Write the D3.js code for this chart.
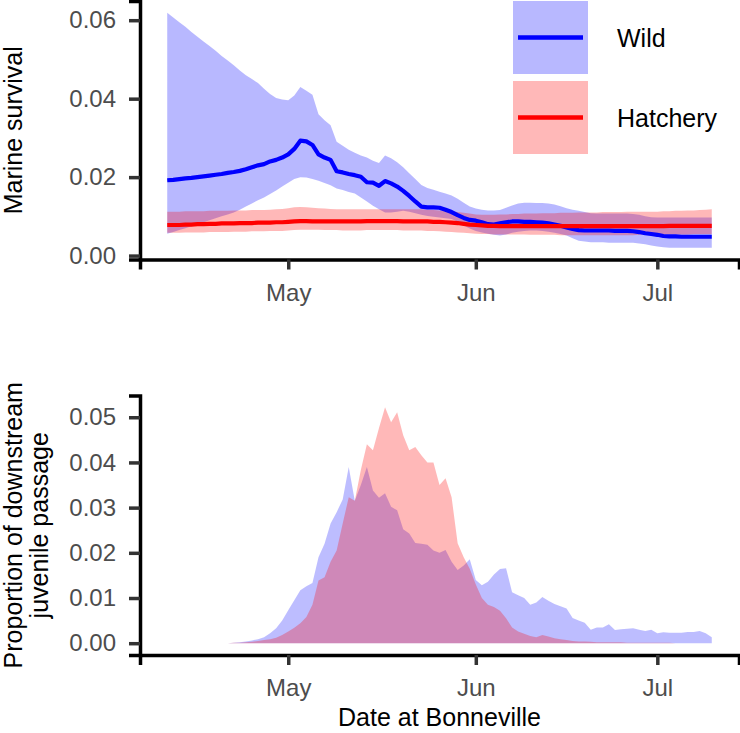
<!DOCTYPE html>
<html><head><meta charset="utf-8">
<script src="https://cdn.jsdelivr.net/npm/d3@7"></script>
<style>body{margin:0;background:#fff} svg{display:block} text{font-family:"Liberation Sans",Arial,sans-serif}</style>
</head><body><svg id="c" width="740" height="733"></svg>
<script>
// ---------- data ----------
const startDate = new Date(2021, 3, 11);
const endDate = new Date(2021, 6, 10);
const monthTicks = [new Date(2021, 4, 1), new Date(2021, 5, 1), new Date(2021, 6, 1)];
const survivalTicks = [0, 0.02, 0.04, 0.06];
const passageTicks = [0, 0.01, 0.02, 0.03, 0.04, 0.05];
const groups = ["Wild", "Hatchery"];
const groupColors = ["#0000ff", "#ff0000"];

const wildMean = [
.0192,.0193,.0195,.0197,.0198,.0200,.0202,.0204,.0206,.0208,
.0211,.0213,.0216,.0220,.0225,.0230,.0233,.0240,.0244,.0250,
.0258,.0272,.0293,.0291,.0282,.0258,.0250,.0244,.0215,.0212,
.0208,.0205,.0201,.0187,.0186,.0178,.0190,.0184,.0176,.0165,
.0152,.0138,.0125,.0123,.0123,.0122,.0117,.0111,.0103,.0096,
.0091,.0089,.0085,.0080,.0079,.0082,.0085,.0087,.0087,.0086,
.0086,.0085,.0084,.0082,.0079,.0076,.0072,.0068,.0065,.0064,
.0064,.0064,.0064,.0064,.0063,.0063,.0063,.0062,.0060,.0057,
.0055,.0053,.0050,.0049,.0049,.0048,.0048,.0048,.0048,.0048,.0048];
const wildUpper = [
.0619,.0607,.0595,.0583,.0570,.0558,.0546,.0534,.0522,.0509,
.0497,.0485,.0472,.0460,.0450,.0440,.0425,.0412,.0402,.0398,
.0396,.0408,.0430,.0420,.0410,.0360,.0345,.0332,.0290,.0280,
.0270,.0262,.0255,.0250,.0242,.0236,.0255,.0248,.0238,.0225,
.0210,.0195,.0180,.0172,.0168,.0163,.0158,.0153,.0145,.0135,
.0125,.0120,.0117,.0115,.0115,.0116,.0122,.0128,.0133,.0135,
.0135,.0134,.0134,.0133,.0130,.0126,.0121,.0117,.0114,.0111,
.0108,.0107,.0107,.0107,.0107,.0107,.0107,.0106,.0104,.0100,
.0098,.0097,.0097,.0097,.0097,.0097,.0097,.0097,.0097,.0097,.0097];
const wildLower = [
.0056,.0060,.0065,.0070,.0075,.0080,.0085,.0090,.0095,.0100,
.0105,.0110,.0117,.0125,.0133,.0141,.0148,.0157,.0166,.0176,
.0186,.0195,.0200,.0199,.0195,.0191,.0185,.0179,.0171,.0167,
.0162,.0158,.0148,.0138,.0127,.0118,.0110,.0110,.0112,.0114,
.0112,.0108,.0104,.0101,.0099,.0097,.0095,.0093,.0086,.0077,
.0069,.0063,.0059,.0056,.0053,.0051,.0054,.0058,.0061,.0063,
.0064,.0064,.0063,.0061,.0058,.0055,.0051,.0044,.0038,.0036,
.0034,.0034,.0034,.0033,.0033,.0033,.0033,.0033,.0031,.0029,
.0026,.0023,.0021,.0020,.0020,.0020,.0020,.0020,.0020,.0020,.0020];
const hatcheryMean = [
.0078,.0078,.0078,.0079,.0079,.0080,.0080,.0081,.0081,.0082,
.0082,.0082,.0083,.0083,.0083,.0084,.0084,.0084,.0085,.0085,
.0086,.0087,.0088,.0088,.0087,.0087,.0087,.0087,.0087,.0087,
.0087,.0087,.0087,.0088,.0088,.0088,.0088,.0088,.0088,.0087,
.0087,.0087,.0087,.0087,.0086,.0086,.0085,.0084,.0083,.0081,
.0079,.0078,.0077,.0076,.0076,.0075,.0075,.0075,.0075,.0075,
.0075,.0075,.0075,.0075,.0075,.0075,.0075,.0075,.0075,.0075,
.0075,.0075,.0075,.0075,.0075,.0075,.0075,.0075,.0075,.0075,
.0075,.0075,.0075,.0076,.0076,.0076,.0076,.0076,.0076,.0076,.0076];
const hatcheryUpper = [
.0112,.0112,.0112,.0113,.0113,.0113,.0113,.0114,.0114,.0114,
.0114,.0115,.0115,.0115,.0116,.0116,.0116,.0117,.0118,.0119,
.0121,.0123,.0124,.0123,.0122,.0121,.0120,.0119,.0118,.0118,
.0118,.0118,.0118,.0118,.0118,.0118,.0118,.0118,.0118,.0118,
.0118,.0118,.0118,.0117,.0116,.0115,.0114,.0113,.0111,.0109,
.0107,.0105,.0104,.0104,.0104,.0105,.0105,.0106,.0106,.0107,
.0107,.0107,.0108,.0108,.0108,.0109,.0109,.0109,.0110,.0110,
.0110,.0110,.0111,.0111,.0111,.0111,.0112,.0112,.0112,.0112,
.0112,.0112,.0113,.0113,.0114,.0114,.0115,.0115,.0116,.0117,.0118];
const hatcheryLower = [
.0058,.0058,.0058,.0059,.0059,.0059,.0059,.0060,.0060,.0060,
.0060,.0061,.0061,.0061,.0062,.0062,.0062,.0063,.0063,.0063,
.0064,.0065,.0066,.0066,.0066,.0066,.0065,.0065,.0065,.0064,
.0064,.0064,.0064,.0065,.0065,.0065,.0065,.0065,.0065,.0064,
.0064,.0064,.0064,.0063,.0063,.0062,.0061,.0060,.0059,.0058,
.0057,.0056,.0055,.0055,.0054,.0054,.0054,.0054,.0054,.0054,
.0053,.0053,.0053,.0053,.0053,.0052,.0052,.0052,.0052,.0052,
.0052,.0052,.0052,.0052,.0052,.0052,.0052,.0052,.0053,.0053,
.0053,.0053,.0053,.0054,.0054,.0054,.0054,.0055,.0055,.0055,.0055];

const wildPassage = [
0,0,0,0,0,0,0,0,0,0,
0,.0001,.0002,.0004,.0006,.0009,.0013,.0022,.0033,.0050,
.0073,.0095,.0117,.0126,.0133,.0190,.0220,.0265,.0290,.0318,
.0390,.0315,.0350,.0390,.0338,.0322,.0332,.0302,.0294,.0252,
.0243,.0222,.0220,.0218,.0205,.0200,.0206,.0180,.0162,.0172,
.0186,.0140,.0128,.0136,.0152,.0164,.0166,.0113,.0106,.0100,
.0085,.0090,.0102,.0094,.0087,.0082,.0077,.0056,.0050,.0045,
.0030,.0035,.0035,.0042,.0029,.0031,.0032,.0033,.0030,.0027,
.0030,.0022,.0024,.0023,.0023,.0023,.0025,.0025,.0027,.0022,.0013];
const hatcheryPassage = [
0,0,0,0,0,0,0,0,0,0,
0,.0001,.0001,.0002,.0003,.0005,.0007,.0009,.0012,.0018,
.0026,.0034,.0044,.0058,.0085,.0139,.0146,.0180,.0205,.0265,
.0323,.0315,.0383,.0440,.0427,.0476,.0522,.0489,.0511,.0460,
.0427,.0434,.0416,.0400,.0400,.0350,.0365,.0323,.0221,.0190,
.0165,.0130,.0100,.0085,.0080,.0072,.0055,.0035,.0026,.0021,
.0016,.0013,.0018,.0015,.0011,.0009,.0007,.0005,.0004,.0004,
.0003,.0002,.0002,.0002,.0002,.0002,.0001,.0001,.0001,.0001,
.0001,.0001,.0001,.0001,0,0,0,0,0,0,0];

// ---------- setup ----------
const dates = d3.timeDay.range(startDate, d3.timeDay.offset(endDate, 1));
const svg = d3.select("#c");
const X0 = 140, X1 = 739;
const span = endDate - startDate;
const x = d3.scaleTime()
  .domain([new Date(+startDate - span * 0.05), new Date(+endDate + span * 0.05)])
  .range([X0, X1]);

function expand(lo, hi) { const p = (hi - lo) * 0.05; return [lo - p, hi + p]; }

const TOP = {t: 1, b: 259.5}, BOT = {t: 395.5, b: 655};
const ySurv = d3.scaleLinear()
  .domain(expand(d3.min([...wildLower, ...hatcheryLower]), d3.max([...wildUpper, ...hatcheryUpper])))
  .range([TOP.b, TOP.t]);
const yPass = d3.scaleLinear()
  .domain(expand(0, d3.max([...wildPassage, ...hatcheryPassage])))
  .range([BOT.b, BOT.t]);

// ---------- top panel ----------
const survSeries = [
  {mean: wildMean, lo: wildLower, hi: wildUpper},
  {mean: hatcheryMean, lo: hatcheryLower, hi: hatcheryUpper}
];
const gTop = svg.append("g");
survSeries.forEach((s, k) => {
  const area = d3.area().x((d, i) => x(dates[i])).y0((d, i) => ySurv(s.lo[i])).y1((d, i) => ySurv(s.hi[i]));
  gTop.append("path").attr("d", area(s.mean)).attr("fill", groupColors[k]).attr("fill-opacity", 0.28);
});
survSeries.forEach((s, k) => {
  const line = d3.line().x((d, i) => x(dates[i])).y(d => ySurv(d));
  gTop.append("path").attr("d", line(s.mean)).attr("fill", "none")
    .attr("stroke", groupColors[k]).attr("stroke-width", 4.2).attr("stroke-linejoin", "round");
});

// ---------- bottom panel ----------
const passSeries = [wildPassage, hatcheryPassage];
const passOpacity = [0.26, 0.28];
const gBot = svg.append("g");
passSeries.forEach((s, k) => {
  const area = d3.area().x((d, i) => x(dates[i])).y0(yPass(0)).y1(d => yPass(d));
  gBot.append("path").attr("d", area(s)).attr("fill", groupColors[k]).attr("fill-opacity", passOpacity[k]);
});

// ---------- axes ----------
function styleAxis(g) {
  g.select(".domain").attr("stroke", "#000").attr("stroke-width", 3.5);
  g.selectAll(".tick line").attr("stroke", "#333").attr("stroke-width", 3.5);
  g.selectAll(".tick text").attr("fill", "#4d4d4d").attr("font-size", 24)
    .attr("font-family", '"Liberation Sans", Arial, sans-serif');
}
const fmtMonth = d3.timeFormat("%b");
[[TOP, ySurv, survivalTicks], [BOT, yPass, passageTicks]].forEach(([P, ys, ticks]) => {
  svg.append("g").attr("transform", `translate(0,${P.b})`)
    .call(d3.axisBottom(x).tickValues(monthTicks).tickFormat(fmtMonth).tickSizeOuter(0).tickSize(10).tickPadding(14))
    .call(styleAxis);
  svg.append("g").attr("transform", `translate(${X0},0)`)
    .call(d3.axisLeft(ys).tickValues(ticks).tickFormat(d3.format(".2f")).tickSizeOuter(0).tickSize(11).tickPadding(13))
    .call(styleAxis);
});

// ---------- titles ----------
svg.append("text").attr("transform", `translate(22,${(TOP.t + TOP.b) / 2}) rotate(-90)`)
  .attr("text-anchor", "middle").attr("font-size", 25).attr("fill", "#000").text("Marine survival");
const passTitle = ["Proportion of downstream", "juvenile passage"];
passTitle.forEach((t, i) => {
  svg.append("text").attr("transform", `translate(${22 + i * 26},${(BOT.t + BOT.b) / 2}) rotate(-90)`)
    .attr("text-anchor", "middle").attr("font-size", 25).attr("fill", "#000").text(t);
});
svg.append("text").attr("x", (X0 + X1) / 2).attr("y", 726).attr("text-anchor", "middle")
  .attr("font-size", 25).attr("fill", "#000").text("Date at Bonneville");

// ---------- legend ----------
const leg = svg.append("g").attr("transform", "translate(513,1)");
groups.forEach((name, k) => {
  const g = leg.append("g").attr("transform", `translate(0,${k * 80})`);
  g.append("rect").attr("width", 75).attr("height", 73).attr("fill", groupColors[k]).attr("fill-opacity", 0.28);
  g.append("line").attr("x1", 5).attr("x2", 70).attr("y1", 36.5).attr("y2", 36.5)
    .attr("stroke", groupColors[k]).attr("stroke-width", 4.5);
  g.append("text").attr("x", 104).attr("y", 45.5).attr("font-size", 25).attr("fill", "#000").text(name);
});
</script></body></html>
